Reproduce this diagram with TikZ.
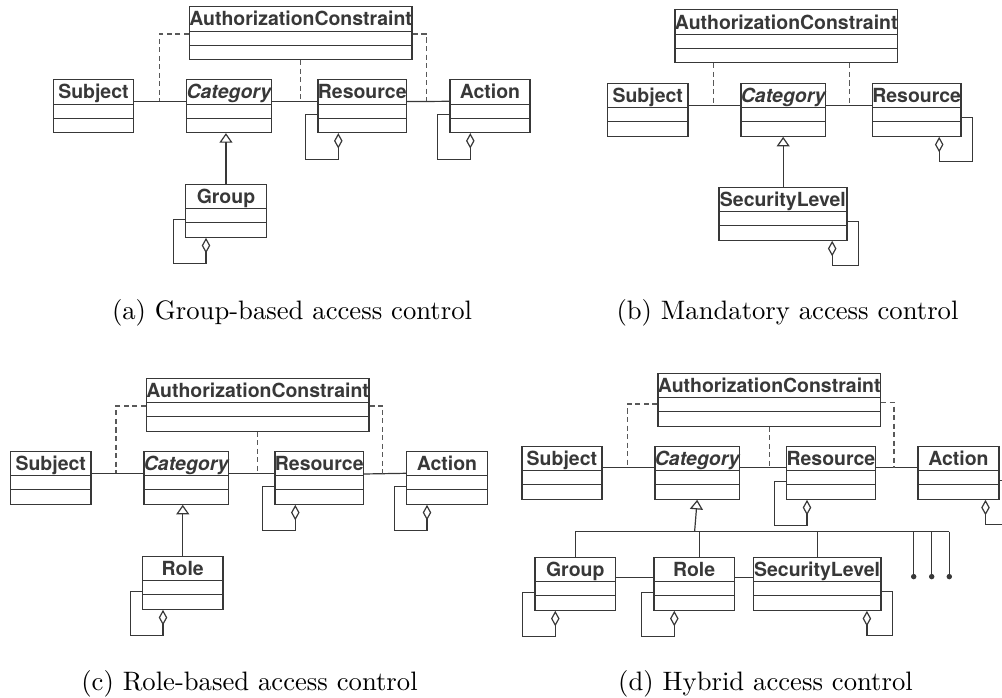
\documentclass[tikz,border=0pt]{standalone}
\usepackage{fontspec}
\newfontfamily\umlfont{TeX Gyre Heros}
\usetikzlibrary{calc}
\usetikzlibrary{arrows.meta}
\colorlet{lc}{black!78}
\tikzset{
cls/.style={
  draw=lc,
  line width=.45pt,
  anchor=north west,
  inner sep=0pt,
  minimum width=#1*0.375pt,
  text height=7.25pt,
  text depth=12.6pt,
  text=lc,
  font=\umlfont\bfseries\fontsize{7.3}{8.5}\selectfont,
  path picture={
    \draw[lc,line width=.4pt]
      ($(path picture bounding box.north west)+(0,24.5)$) -- ($(path picture bounding box.north east)+(0,24.5)$)
      ($(path picture bounding box.north west)+(0,38.5)$) -- ($(path picture bounding box.north east)+(0,38.5)$);
  }
  },
abstractcls/.style={
  cls=#1,
  font=\umlfont\bfseries\itshape\fontsize{7.3}{8.5}\selectfont
  },
assoc/.style={draw=lc,line width=.45pt},
dep/.style={draw=black!65,line width=.45pt,dash pattern=on 1.9pt off 1.3pt},
gen/.style={assoc,-{Triangle[open,length=3.6pt,width=4.9pt]}},
aggr/.style={assoc,-{Diamond[open,length=5.8pt,width=3.2pt]}},
dotend/.style={assoc,-{Circle[length=2pt]}},
subcap/.style={anchor=base,font=\fontsize{10}{12}\selectfont}
}
% self aggregation loops, left or right of a class box
\newcommand{\selfleft}[1]{%
  \draw[aggr] ($(#1.north west)+(0,35.5)$) -- ++(-11.5,0) |- ($(#1.south west)+(21,26)$) -- ($(#1.south west)+(21,0)$);}
\newcommand{\selfright}[2]{%
  \draw[aggr] ($(#1.north east)+(0,34.5)$) -- ++(10.7,0) |- ($(#1.south east)+(-#2,25)$) -- ($(#1.south east)+(-#2,0)$);}

\begin{document}
\begin{tikzpicture}[x=0.375pt,y=-0.375pt]
\useasboundingbox (0,0) rectangle (1002,698);
% (a) group-based
\node[cls=204.6] (aAC) at (188.7,6) {AuthorizationConstraint};
\node[cls=80.3] (aSubj) at (52.7,79) {Subject};
\node[abstractcls=80.7] (aCat) at (186,79) {Category};
\node[cls=84.4] (aRes) at (317.3,79) {Resource};
\node[cls=80] (aAct) at (449.3,79) {Action};
\node[cls=80.7] (aGrp) at (185,183.7) {Group};
\draw[assoc] ($(aSubj.north east)+(0,22.3)$) -- coordinate[pos=.485] (asc) ($(aCat.north west)+(0,22.3)$);
\draw[assoc] ($(aCat.north east)+(0,22.3)$) -- coordinate (acr) ($(aRes.north west)+(0,22.3)$);
\draw[assoc] ($(aRes.north east)+(0,22.6)$) -- coordinate[pos=.45] (ara) ($(aAct.north west)+(0,22.3)$);
\draw[dep] ($(aAC.north west)+(0,28)$) -| (asc);
\draw[dep] (aAC.south) -- (aAC.south |- acr);
\draw[dep] ($(aAC.north east)+(0,28)$) -| (ara);
\draw[gen] (aGrp.north) -- (aGrp.north |- aCat.south);
\selfleft{aRes}
\selfleft{aAct}
\selfleft{aGrp}
\node[subcap] (acap) at (292,320) {(a) Group-based access control};

% (b) mandatory
\node[cls=204.7] (bAC) at (674.3,9.3) {AuthorizationConstraint};
\node[cls=80.3] (bSubj) at (607,82.7) {Subject};
\node[abstractcls=80.7] (bCat) at (740.3,82.7) {Category};
\node[cls=84] (bRes) at (871.7,82.7) {Resource};
\node[cls=128] (bSec) at (718.3,186.7) {SecurityLevel};
\draw[assoc] ($(bSubj.north east)+(0,22.6)$) -- coordinate[pos=.48] (bsc) ($(bCat.north west)+(0,22.6)$);
\draw[assoc] ($(bCat.north east)+(0,22.6)$) -- coordinate[pos=.52] (bcr) ($(bRes.north west)+(0,22.6)$);
\draw[dep] (bsc |- bAC.south) -- (bsc);
\draw[dep] (bcr |- bAC.south) -- (bcr);
\draw[gen] (bCat.south |- bSec.north) -- (bCat.south);
\selfright{bRes}{22.4}
\selfright{bSec}{15.3}
\node[subcap] (bcap) at (787.5,320) {(b) Mandatory access control};

% (c) role-based
\node[cls=205] (cAC) at (145.7,377.7) {AuthorizationConstraint};
\node[cls=80.3] (cSubj) at (10,450.7) {Subject};
\node[abstractcls=80.7] (cCat) at (143.3,450.7) {Category};
\node[cls=84.7] (cRes) at (274.3,450.7) {Resource};
\node[cls=80.7] (cAct) at (406,450.7) {Action};
\node[cls=80.3] (cRole) at (142,555.7) {Role};
\draw[assoc] ($(cSubj.north east)+(0,22.6)$) -- coordinate[pos=.472] (csc) ($(cCat.north west)+(0,22.6)$);
\draw[assoc] ($(cCat.north east)+(0,22.6)$) -- coordinate (ccr) ($(cRes.north west)+(0,22.6)$);
\draw[assoc] ($(cRes.north east)+(0,23.3)$) -- coordinate[pos=.447] (cra) ($(cAct.north west)+(0,22.6)$);
\draw[dep] ($(cAC.north west)+(0,28.3)$) -| (csc);
\draw[dep] (cAC.south) -- (cAC.south |- ccr);
\draw[dep] ($(cAC.north east)+(0,28.3)$) -| (cra);
\draw[gen] (cRole.north) -- (cRole.north |- cCat.south);
\selfleft{cRes}
\selfleft{cAct}
\selfleft{cRole}
\node[subcap] (ccap) at (249.5,690.7) {(c) Role-based access control};

% (d) hybrid
\node[cls=204] (dAC) at (657.3,372.7) {AuthorizationConstraint};
\node[cls=80] (dSubj) at (521.3,445.7) {Subject};
\node[abstractcls=80.7] (dCat) at (654.3,445.7) {Category};
\node[cls=84] (dRes) at (786,445.7) {Resource};
\node[cls=81] (dAct) at (917.3,445.7) {Action};
\node[cls=80.7] (dGrp) at (534.3,556.7) {Group};
\node[cls=80.4] (dRole) at (653.3,556.7) {Role};
\node[cls=127.6] (dSec) at (752.7,556.7) {SecurityLevel};
\coordinate (dbus) at (694.6,531.7);
\coordinate (dx1) at (913.7,579.3);
\coordinate (dx2) at (931.7,579.3);
\coordinate (dx3) at (949.3,579.3);
\draw[assoc] ($(dSubj.north east)+(0,22)$) -- coordinate[pos=.485] (dsc) ($(dCat.north west)+(0,22)$);
\draw[assoc] ($(dCat.north east)+(0,22)$) -- coordinate[pos=.47] (dcr) ($(dRes.north west)+(0,22)$);
\draw[assoc] ($(dRes.north east)+(0,22)$) -- coordinate[pos=.438] (dra) ($(dAct.north west)+(0,22)$);
\draw[assoc] ($(dGrp.north east)+(0,21)$) -- ($(dRole.north west)+(0,21)$);
\draw[assoc] ($(dRole.north east)+(0,21)$) -- ($(dSec.north west)+(0,21)$);
\draw[dep] ($(dAC.north west)+(0,31.3)$) -| (dsc);
\draw[dep] (dAC.south) -- (dAC.south |- dcr);
\draw[dep] ($(dAC.north east)+(0,29.6)$) -| (dra);
\draw[gen] (dbus) -- (dCat.south);
\draw[assoc] (dGrp.north) |- (dx3 |- dbus);
\draw[assoc] ([xshift=2pt]dRole.north) -- ([xshift=2pt]dRole.north |- dbus);
\draw[assoc] (dSec.north) -- (dSec.north |- dbus);
\draw[dotend] (dx1 |- dbus) -- (dx1);
\draw[dotend] (dx2 |- dbus) -- (dx2);
\draw[dotend] (dx3 |- dbus) -- (dx3);
\selfleft{dRes}
\selfleft{dGrp}
\selfleft{dRole}
\selfright{dSec}{14.6}
\selfright{dAct}{14}
\node[subcap] (dcap) at (765.5,690.7) {(d) Hybrid access control};
\end{tikzpicture}
\end{document}
